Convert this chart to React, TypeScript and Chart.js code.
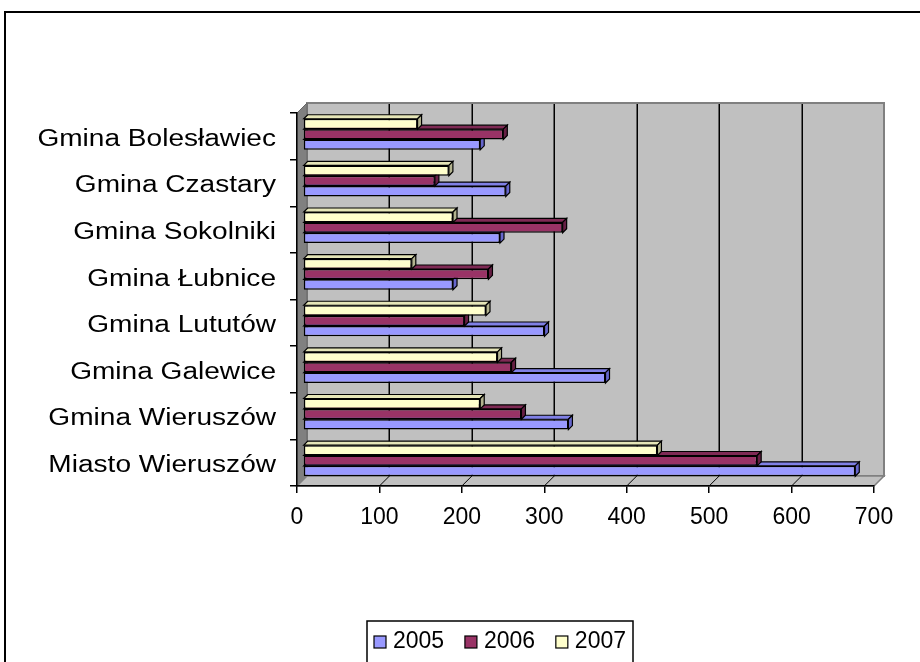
import React, { useEffect, useRef } from "react";
import { Chart, registerables } from "chart.js";

Chart.register(...registerables);

// ---- data ----
const categories = [
  "Gmina Bolesławiec",
  "Gmina Czastary",
  "Gmina Sokolniki",
  "Gmina Łubnice",
  "Gmina Lututów",
  "Gmina Galewice",
  "Gmina Wieruszów",
  "Miasto Wieruszów",
];
const seriesLabels = ["2005", "2006", "2007"];
const values2005 = [215, 246, 239, 182, 293, 367, 322, 670];
const values2006 = [243, 160, 315, 225, 196, 253, 265, 551];
const values2007 = [139, 177, 182, 132, 222, 236, 215, 430];
const xMin = 0;
const xMax = 700;
const xStep = 100;

// ---- style ----
const FONT = '"Liberation Sans", Arial, sans-serif';
const faceColors: Record<string, string> = { "2005": "#9999FF", "2006": "#993366", "2007": "#FFFFCC" };
const topColors: Record<string, string> = { "2005": "#8080E6", "2006": "#7F2A55", "2007": "#E6E6B8" };
const sideColors: Record<string, string> = { "2005": "#6666CC", "2006": "#661F44", "2007": "#B3B38F" };
const WALL_DEPTH = 10;
const BAR_SHIFT_X = 6;
const BAR_SHIFT_Y = -2;
const BAR_DEPTH = 4;
const LABEL_FONT_SIZE = 23;
const LABEL_STRETCH = 1.22;
const TICK_FONT_SIZE = 23;

function poly(ctx: CanvasRenderingContext2D, pts: number[][]) {
  ctx.beginPath();
  ctx.moveTo(pts[0][0], pts[0][1]);
  for (let i = 1; i < pts.length; i++) ctx.lineTo(pts[i][0], pts[i][1]);
  ctx.closePath();
}

const threeDPlugin = {
  id: "threeD",
  beforeDraw(chart: any) {
    const { ctx, chartArea: a, scales } = chart;
    const x = scales.x;
    const d = WALL_DEPTH;
    ctx.save();
    ctx.fillStyle = "#ffffff";
    ctx.fillRect(0, 0, chart.width, chart.height);
    // outer frame
    ctx.strokeStyle = "#000";
    ctx.lineWidth = 2;
    ctx.strokeRect(5, 12, chart.width + 20, chart.height + 20);
    // back wall
    ctx.fillStyle = "#C0C0C0";
    ctx.fillRect(a.left + d, a.top - d, a.right - a.left, a.bottom - a.top);
    // gridlines on back wall
    ctx.strokeStyle = "#000";
    ctx.lineWidth = 1.5;
    for (const t of x.ticks) {
      if (t.value <= xMin || t.value >= xMax) continue;
      const px = Math.round(x.getPixelForValue(t.value) + d) + 0.25;
      ctx.beginPath();
      ctx.moveTo(px, a.top - d);
      ctx.lineTo(px, a.bottom - d);
      ctx.stroke();
    }
    ctx.strokeStyle = "#808080";
    ctx.lineWidth = 2;
    ctx.strokeRect(a.left + d, a.top - d, a.right - a.left, a.bottom - a.top);
    // left wall
    poly(ctx, [
      [a.left, a.top],
      [a.left + d, a.top - d],
      [a.left + d, a.bottom - d],
      [a.left, a.bottom],
    ]);
    ctx.fillStyle = "#808080";
    ctx.fill();
    ctx.strokeStyle = "#666";
    ctx.lineWidth = 1;
    ctx.stroke();
    // floor
    poly(ctx, [
      [a.left, a.bottom],
      [a.left + d, a.bottom - d],
      [a.right + d, a.bottom - d],
      [a.right, a.bottom],
    ]);
    ctx.fillStyle = "#C0C0C0";
    ctx.fill();
    ctx.strokeStyle = "#808080";
    ctx.lineWidth = 1.5;
    ctx.stroke();
    // floor diagonals
    ctx.strokeStyle = "#000";
    ctx.lineWidth = 1;
    for (const t of x.ticks) {
      if (t.value <= xMin || t.value >= xMax) continue;
      const px = x.getPixelForValue(t.value);
      ctx.beginPath();
      ctx.moveTo(px, a.bottom);
      ctx.lineTo(px + d, a.bottom - d);
      ctx.stroke();
    }
    ctx.restore();
  },
  beforeDatasetsDraw(chart: any) {
    chart.ctx.save();
    chart.ctx.translate(BAR_SHIFT_X, BAR_SHIFT_Y);
  },
  afterDatasetDraw(chart: any, args: any) {
    const { ctx } = chart;
    const label = chart.data.datasets[args.index].label;
    const bd = BAR_DEPTH;
    ctx.save();
    ctx.strokeStyle = "#000";
    ctx.lineWidth = 1.2;
    for (const el of args.meta.data) {
      const p = el.getProps(["x", "y", "base", "height"], true);
      const top = p.y - p.height / 2;
      const bot = p.y + p.height / 2;
      const x0 = Math.min(p.base, p.x);
      const x1 = Math.max(p.base, p.x);
      poly(ctx, [
        [x0, top],
        [x0 + bd, top - bd],
        [x1 + bd, top - bd],
        [x1, top],
      ]);
      ctx.fillStyle = topColors[label];
      ctx.fill();
      ctx.stroke();
      poly(ctx, [
        [x1, top],
        [x1 + bd, top - bd],
        [x1 + bd, bot - bd],
        [x1, bot],
      ]);
      ctx.fillStyle = sideColors[label];
      ctx.fill();
      ctx.stroke();
    }
    ctx.restore();
  },
  afterDatasetsDraw(chart: any) {
    chart.ctx.restore();
  },
  afterDraw(chart: any) {
    const { ctx, scales } = chart;
    const y = scales.y;
    ctx.save();
    // category labels
    ctx.fillStyle = "#000";
    ctx.font = `${LABEL_FONT_SIZE}px ${FONT}`;
    ctx.textAlign = "right";
    ctx.textBaseline = "middle";
    const labels = y.getLabels();
    const rightX = y.right - 7 - 14;
    labels.forEach((lab: string, i: number) => {
      const py = y.getPixelForValue(i) + 3;
      ctx.save();
      ctx.translate(rightX, py);
      ctx.scale(LABEL_STRETCH, 1);
      ctx.fillText(lab, 0, 0);
      ctx.restore();
    });
    // legend
    const boxL = 367, boxT = 621, boxR = 633;
    const items = [...chart.data.datasets].reverse();
    ctx.font = `${TICK_FONT_SIZE}px ${FONT}`;
    ctx.textAlign = "left";
    const sq = 12, gap = 7, pad = 7;
    const widths = items.map((ds: any) => sq + gap + ctx.measureText(ds.label).width);
    const total = widths.reduce((s: number, w: number) => s + w, 0);
    const spacing = (boxR - boxL - 2 * pad - total) / (items.length - 1);
    ctx.fillStyle = "#fff";
    ctx.fillRect(boxL, boxT, boxR - boxL, 60);
    ctx.strokeStyle = "#000";
    ctx.lineWidth = 1.5;
    ctx.strokeRect(boxL, boxT, boxR - boxL, 60);
    let cx = boxL + pad;
    const cy = 642;
    items.forEach((ds: any, i: number) => {
      ctx.fillStyle = ds.backgroundColor;
      ctx.fillRect(cx, cy - sq / 2, sq, sq);
      ctx.strokeStyle = "#000";
      ctx.lineWidth = 1.2;
      ctx.strokeRect(cx, cy - sq / 2, sq, sq);
      ctx.fillStyle = "#000";
      ctx.fillText(ds.label, cx + sq + gap, cy);
      cx += widths[i] + spacing;
    });
    ctx.restore();
  },
};

export default function App() {
  const ref = useRef<HTMLCanvasElement | null>(null);
  useEffect(() => {
    if (!ref.current) return;
    const mk = (lab: string, data: number[]) => ({
      label: lab,
      data,
      backgroundColor: faceColors[lab],
      borderColor: "#000",
      borderWidth: 1.5,
      borderSkipped: false,
      categoryPercentage: 0.667,
      barPercentage: 1,
      clip: false,
    });
    const chart = new Chart(ref.current, {
      type: "bar",
      data: {
        labels: categories,
        datasets: [
          mk(seriesLabels[2], values2007),
          mk(seriesLabels[1], values2006),
          mk(seriesLabels[0], values2005),
        ] as any,
      },
      options: {
        indexAxis: "y",
        responsive: false,
        animation: false,
        events: [],
        layout: { padding: { left: 0, top: 113, right: 46, bottom: 0 } },
        plugins: { legend: { display: false }, tooltip: { enabled: false } },
        scales: {
          x: {
            type: "linear",
            position: "bottom",
            min: xMin,
            max: xMax,
            ticks: {
              stepSize: xStep,
              color: "#000",
              font: { family: FONT, size: TICK_FONT_SIZE },
              padding: 11,
              maxRotation: 0,
            },
            grid: { drawOnChartArea: false, drawTicks: true, tickLength: 7, color: "#000", lineWidth: 1.5 },
            border: { display: true, color: "#000", width: 1.5 },
            afterFit: (s: any) => {
              s.height = 176;
            },
          },
          y: {
            type: "category",
            position: "left",
            ticks: { display: false },
            grid: { offset: true, drawOnChartArea: false, drawTicks: true, tickLength: 7, color: "#000", lineWidth: 1.5 },
            border: { display: true, color: "#000", width: 1.5 },
            afterFit: (s: any) => {
              s.width = 297;
            },
          },
        },
      } as any,
      plugins: [threeDPlugin],
    });
    return () => chart.destroy();
  }, []);
  return (
    <div style={{ position: "absolute", left: 0, top: 0, width: 920, height: 662 }}>
      <canvas ref={ref} width={920} height={662} style={{ display: "block" }} />
    </div>
  );
}
